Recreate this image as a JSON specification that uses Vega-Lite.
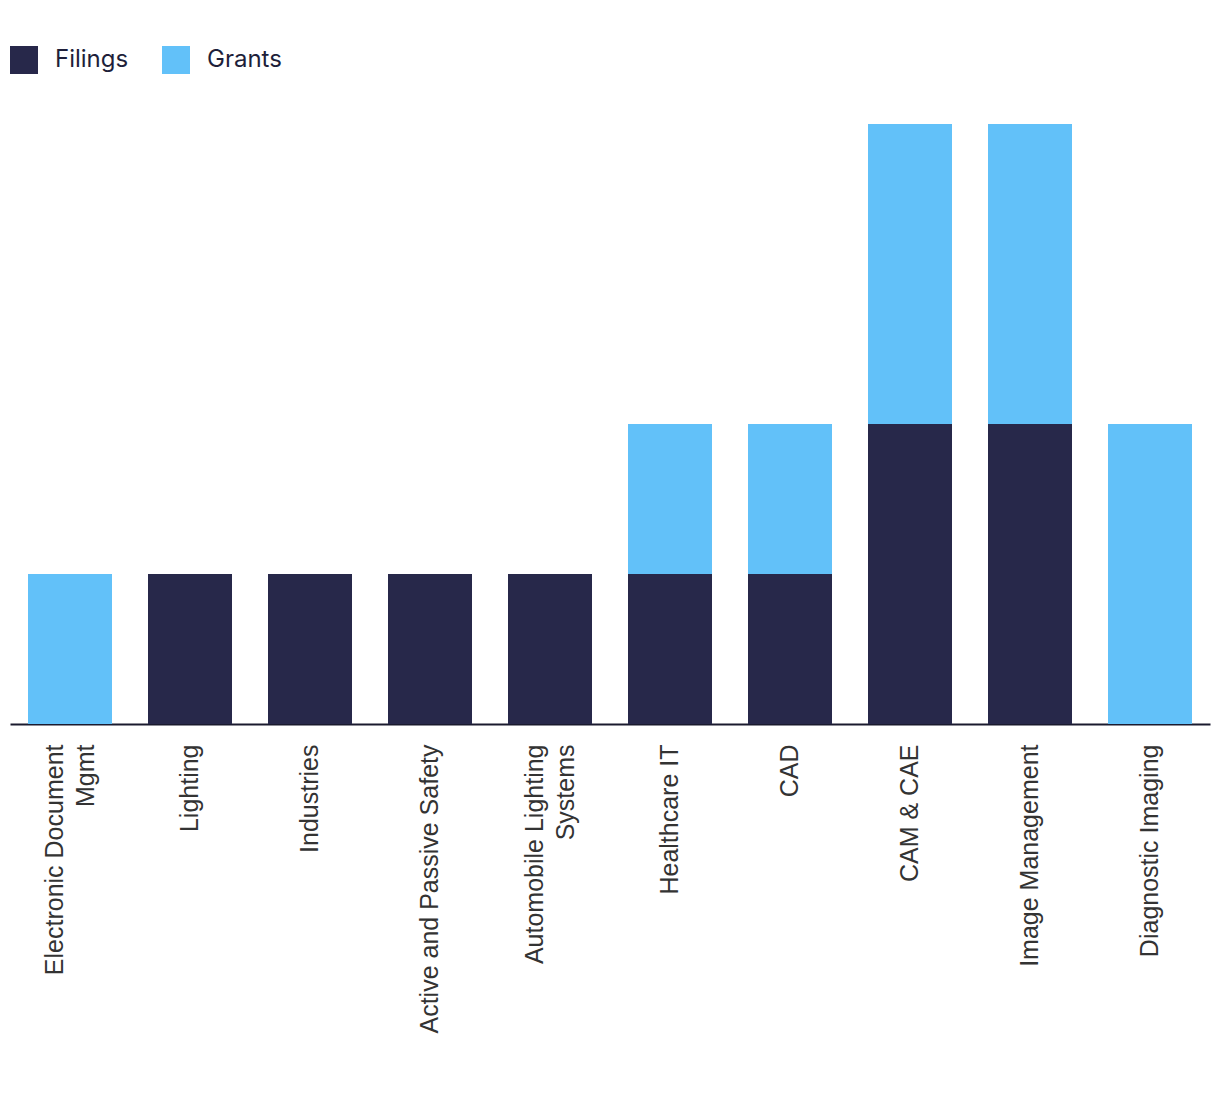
{
  "$schema": "https://vega.github.io/schema/vega-lite/v6.json",
  "width": 1200,
  "height": 600,
  "autosize": {"type": "none"},
  "padding": {"left": 10, "top": 124, "right": 10, "bottom": 370},
  "background": "white",
  "config": {"view": {"stroke": null}},
  "data": {
    "values": [
      {"category": "Electronic Document Mgmt", "type": "Filings", "value": 0},
      {"category": "Electronic Document Mgmt", "type": "Grants", "value": 1},
      {"category": "Lighting", "type": "Filings", "value": 1},
      {"category": "Lighting", "type": "Grants", "value": 0},
      {"category": "Industries", "type": "Filings", "value": 1},
      {"category": "Industries", "type": "Grants", "value": 0},
      {"category": "Active and Passive Safety", "type": "Filings", "value": 1},
      {"category": "Active and Passive Safety", "type": "Grants", "value": 0},
      {"category": "Automobile Lighting Systems", "type": "Filings", "value": 1},
      {"category": "Automobile Lighting Systems", "type": "Grants", "value": 0},
      {"category": "Healthcare IT", "type": "Filings", "value": 1},
      {"category": "Healthcare IT", "type": "Grants", "value": 1},
      {"category": "CAD", "type": "Filings", "value": 1},
      {"category": "CAD", "type": "Grants", "value": 1},
      {"category": "CAM & CAE", "type": "Filings", "value": 2},
      {"category": "CAM & CAE", "type": "Grants", "value": 2},
      {"category": "Image Management", "type": "Filings", "value": 2},
      {"category": "Image Management", "type": "Grants", "value": 2},
      {"category": "Diagnostic Imaging", "type": "Filings", "value": 0},
      {"category": "Diagnostic Imaging", "type": "Grants", "value": 2}
    ]
  },
  "mark": {"type": "bar"},
  "encoding": {
    "x": {
      "field": "category",
      "type": "nominal",
      "sort": null,
      "scale": {"paddingInner": 0.3, "paddingOuter": 0.15},
      "axis": {
        "title": null,
        "labelAngle": -90,
        "labelFont": "Liberation Sans",
        "labelFontSize": 25,
        "labelColor": "#333333",
        "labelPadding": 20,
        "labelLimit": 0,
        "labelLineHeight": 31,
        "labelOffset": {
          "condition": {"test": "datum.value == 'Electronic Document Mgmt' || datum.value == 'Automobile Lighting Systems'", "value": -15},
          "value": 0
        },
        "labelExpr": "datum.value == 'Electronic Document Mgmt' ? ['Electronic Document', 'Mgmt'] : datum.value == 'Automobile Lighting Systems' ? ['Automobile Lighting', 'Systems'] : datum.label",
        "ticks": false,
        "domainColor": "#1a1a2e",
        "domainWidth": 2,
        "grid": false
      }
    },
    "y": {
      "field": "value",
      "type": "quantitative",
      "stack": "zero",
      "scale": {"domain": [0, 4], "nice": false},
      "axis": null
    },
    "color": {
      "field": "type",
      "type": "nominal",
      "scale": {"domain": ["Filings", "Grants"], "range": ["#27284a", "#62c1f9"]},
      "legend": {
        "title": null,
        "orient": "none",
        "legendX": 0,
        "legendY": -78,
        "direction": "horizontal",
        "padding": 0,
        "symbolType": "square",
        "symbolSize": 784,
        "symbolStrokeWidth": 0,
        "symbolOpacity": 1,
        "labelFont": "Inter",
        "labelFontSize": 24,
        "labelColor": "#1e1f3a",
        "labelOffset": 17,
        "columnPadding": 33
      }
    },
    "order": {"field": "type", "sort": "ascending"}
  }
}
